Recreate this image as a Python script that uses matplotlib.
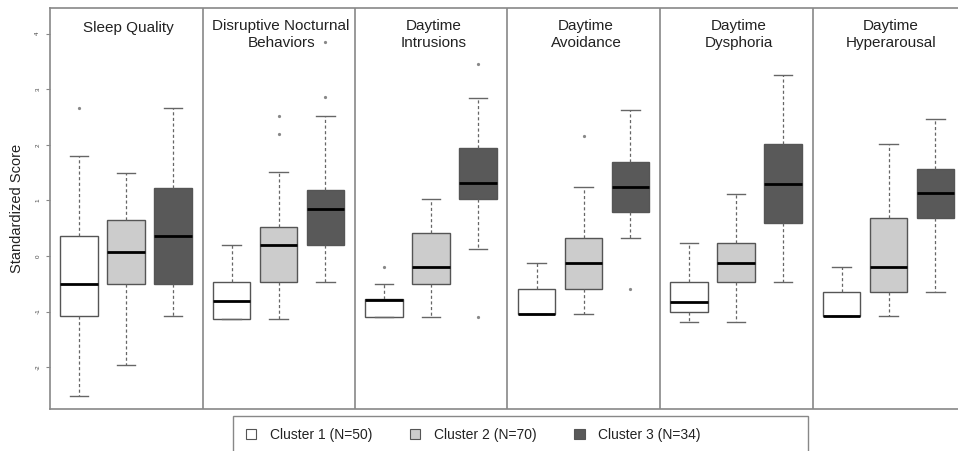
import matplotlib
matplotlib.use("Agg")
import matplotlib.pyplot as plt
from matplotlib.patches import Patch, Rectangle

plt.rcParams["font.family"] = ["Liberation Sans", "DejaVu Sans"]

# panel titles
panels = ["Sleep Quality", "Disruptive Nocturnal\nBehaviors", "Daytime\nIntrusions",
          "Daytime\nAvoidance", "Daytime\nDysphoria", "Daytime\nHyperarousal"]
clusters = ["Cluster 1 (N=50)", "Cluster 2 (N=70)", "Cluster 3 (N=34)"]
fills = ["#ffffff", "#cccccc", "#595959"]

# box stats per cluster, one value per panel
c1_lo  = [-2.52, -1.14, -1.09, -1.05, -1.18, -1.08]
c1_q1  = [-1.07, -1.14, -1.09, -1.05, -1.00, -1.08]
c1_med = [-0.51, -0.80, -0.79, -1.05, -0.83, -1.08]
c1_q3  = [0.36, -0.47, -0.77, -0.60, -0.47, -0.64]
c1_hi  = [1.80, 0.20, -0.50, -0.13, 0.24, -0.20]
c1_out = [[2.67], [], [-0.19], [], [], []]

c2_lo  = [-1.95, -1.14, -1.09, -1.05, -1.18, -1.08]
c2_q1  = [-0.51, -0.47, -0.50, -0.60, -0.47, -0.64]
c2_med = [0.07, 0.20, -0.19, -0.13, -0.12, -0.20]
c2_q3  = [0.64, 0.52, 0.41, 0.32, 0.24, 0.68]
c2_hi  = [1.50, 1.52, 1.03, 1.24, 1.12, 2.01]
c2_out = [[], [2.52, 2.19], [], [2.16], [], []]

c3_lo  = [-1.08, -0.47, 0.13, 0.32, -0.47, -0.64]
c3_q1  = [-0.51, 0.20, 1.03, 0.79, 0.59, 0.68]
c3_med = [0.36, 0.85, 1.32, 1.24, 1.30, 1.14]
c3_q3  = [1.22, 1.19, 1.94, 1.69, 2.01, 1.56]
c3_hi  = [2.67, 2.52, 2.84, 2.62, 3.26, 2.46]
c3_out = [[], [2.86, 3.85], [3.45, -1.09], [-0.60], [], []]

yticks = [-2, -1, 0, 1, 2, 3, 4]

groups = [
    (c1_lo, c1_q1, c1_med, c1_q3, c1_hi, c1_out),
    (c2_lo, c2_q1, c2_med, c2_q3, c2_hi, c2_out),
    (c3_lo, c3_q1, c3_med, c3_q3, c3_hi, c3_out),
]

pw = 3.25  # width of one panel in box units
fig = plt.figure(figsize=(9.58, 4.51), dpi=100)
ax = fig.add_axes([50 / 958, 42 / 451, 915 / 958, 401.5 / 451])

for g, (lo, q1, med, q3, hi, out) in enumerate(groups):
    stats = []
    pos = []
    for p in range(len(panels)):
        stats.append(dict(whislo=lo[p], q1=q1[p], med=med[p], q3=q3[p],
                          whishi=hi[p], fliers=out[p]))
        pos.append(p * pw + 0.62 + g)
    ax.bxp(stats, positions=pos, widths=0.8, patch_artist=True, showfliers=True,
           boxprops=dict(facecolor=fills[g], edgecolor="#555555", linewidth=1.0),
           medianprops=dict(color="black", linewidth=2.0),
           whiskerprops=dict(color="#666666", linestyle=(0, (2.5, 2)), linewidth=0.9),
           capprops=dict(color="#666666", linewidth=1.0),
           flierprops=dict(marker="o", markersize=1.3, markerfacecolor="#888888",
                           markeredgecolor="#888888"),
           capwidths=0.4)

for p in range(1, len(panels)):
    ax.axvline(p * pw, color="#888888", linewidth=1.2)

for p, name in enumerate(panels):
    ty = 3.99 if "\n" in name else 4.10
    ax.text(p * pw + pw / 2 + 0.05, ty, name, ha="center", va="center",
            fontsize=11, color="#222222", linespacing=1.25)

ax.set_xlim(0, len(panels) * pw)
ax.set_ylim(-2.75, 4.47)
ax.set_xticks([])
ax.set_yticks(yticks)
ax.set_yticklabels([str(v) for v in yticks], rotation=90, fontsize=4.5,
                   color="#444444", va="center")
ax.tick_params(axis="y", length=3, width=0.8, color="#888888", pad=4)
for s in ax.spines.values():
    s.set_color("#888888")
    s.set_linewidth(1.2)
ax.set_ylabel("Standardized Score", fontsize=10.5, color="#222222", labelpad=8)

# legend frame is wider than its entries and runs off the bottom edge
fig.patches.append(Rectangle((233 / 958, -0.05), 575 / 958, 0.05 + 35 / 451,
                             transform=fig.transFigure, facecolor="none",
                             edgecolor="#888888", linewidth=1.0))
handles = [Patch(facecolor=fills[i], edgecolor="#555555", linewidth=0.8)
           for i in range(len(clusters))]
leg = fig.legend(handles, clusters, loc="center left", ncol=3,
                 bbox_to_anchor=(240 / 958, 1 - 435 / 451), frameon=False,
                 borderaxespad=0, fontsize=10, handlelength=0.75,
                 handleheight=0.75, columnspacing=2.7, borderpad=0.4,
                 handletextpad=1.0)
for t in leg.get_texts():
    t.set_color("#222222")

fig.savefig("out.png", dpi=100)
